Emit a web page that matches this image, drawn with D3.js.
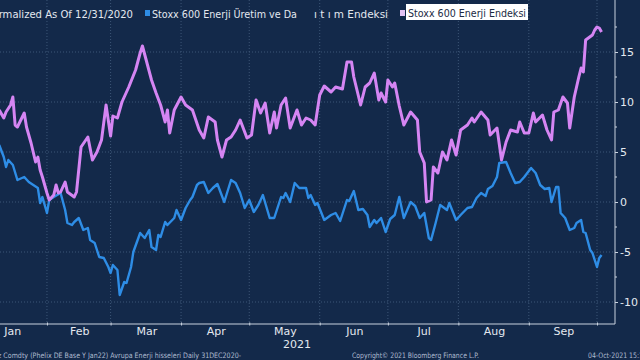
<!DOCTYPE html>
<html>
<head>
<meta charset="utf-8">
<script src="https://cdn.jsdelivr.net/npm/d3@7"></script>
<style>
  html, body { margin: 0; padding: 0; background: #13294a; }
  svg { display: block; }
</style>
</head>
<body>
<svg id="chart" width="640" height="360"></svg>
<script>
// ---- DATA (day offsets from 1 Jan 2021, values normalized to 0 at 12/31/2020, %) ----
const energyDays = [10,12,13,15,16,17,18,21,22,24,26,27,28,29,31,32,34,35,36,37,39,40,43,44,46,49,51,53,55,57,59,60,62,64,67,70,72,73,75,77,79,81,83,84,85,87,90,92,95,98,100,102,105,106,108,110,112,114,116,119,121,123,125,127,129,131,132,134,136,138,141,143,145,147,149,151,153,156,158,161,163,165,166,169,171,173,175,177,178,180,181,183,184,186,188,191,194,195,197,198,200,201,203,205,207,209,211,213,216,218,219,222,225,226,229,231,233,235,238,239,241,243,245,246,249,251,253,254,256,258,260,261,263,265,266,267,268,271,272,273,274,275];
const energyVals = [9.2,8.4,9.0,9.7,10.5,7.7,7.5,8.9,7.5,5.9,4.0,4.5,3.2,2.5,0.9,0.2,0.7,1.7,0.9,1.0,2.0,1.0,0.5,1.0,5.5,6.5,4.2,5.0,6.2,9.7,6.6,8.6,8.4,10.0,11.5,13.2,14.9,15.6,13.9,12.2,10.9,9.7,8.0,9.2,6.9,9.2,10.5,9.7,9.2,7.2,6.4,8.5,8.0,6.2,4.5,6.2,6.5,7.2,8.2,6.4,6.7,10.2,8.9,9.9,6.9,9.0,7.4,9.7,10.4,7.4,9.2,7.7,8.4,8.2,7.7,10.7,11.6,11.0,11.5,11.3,14.0,14.0,12.5,9.7,11.5,11.9,12.9,10.2,10.9,10.0,12.2,11.5,11.9,9.6,7.7,9.0,8.2,5.0,3.9,0.0,0.2,3.5,2.9,5.0,4.2,6.2,4.7,7.2,7.7,8.4,8.0,9.0,8.2,6.7,7.4,4.2,6.0,7.2,7.0,8.0,6.9,6.9,8.9,8.0,8.7,7.2,6.2,9.0,9.2,10.5,9.9,7.4,10.5,12.5,13.4,13.0,16.2,16.7,17.2,17.5,17.4,17.0];

const utilDays = [10,12,13,14,16,18,21,23,25,27,28,29,31,32,34,37,39,40,42,43,45,47,49,50,52,54,56,58,59,60,62,63,65,66,68,69,72,74,76,77,79,80,81,83,84,87,88,90,92,94,95,97,98,100,102,104,106,109,112,114,116,118,120,122,124,126,129,131,134,135,136,138,140,142,145,146,147,149,150,153,156,158,160,163,164,166,168,170,172,173,175,176,178,180,182,184,186,188,191,193,195,197,199,200,202,204,207,208,211,213,216,218,220,222,224,225,227,229,230,233,235,237,239,241,244,246,248,250,252,253,255,256,257,259,261,263,264,266,267,268,270,271,273,274,275];
const utilVals = [5.7,4.5,3.5,4.2,3.7,2.2,2.5,2.0,1.7,1.4,-0.1,0.5,-1.1,0.2,0.5,0.9,-0.8,-2.1,-2.3,-2.0,-1.6,-2.8,-2.6,-3.8,-4.1,-5.5,-5.6,-6.5,-7.1,-6.3,-6.8,-9.3,-8.0,-8.1,-6.5,-5.0,-3.1,-3.6,-2.8,-4.5,-4.8,-3.3,-3.5,-2.0,-2.3,-1.6,-0.8,-1.8,-0.6,0.2,0.5,1.7,1.9,2.0,0.9,1.4,1.8,0.0,2.2,1.9,0.9,-0.6,0.2,-1.0,-0.3,0.7,-1.6,-1.6,0.5,0.4,0.9,0.0,1.9,1.4,1.4,0.4,0.7,-0.3,-0.1,-1.8,-1.3,-1.1,-1.9,0.2,0.1,1.1,-0.8,-0.7,-1.3,-2.5,-1.8,-2.1,-1.6,-3.0,-1.7,-1.3,0.5,-1.6,0.0,-0.4,-1.6,-1.1,-3.6,-3.8,-2.1,-0.3,-0.8,-0.1,-1.8,-1.3,-0.6,-0.5,0.4,0.9,0.6,1.3,1.6,2.5,3.9,4.0,2.9,1.9,2.0,2.5,3.4,2.9,1.7,1.3,1.4,0.0,1.5,1.5,-1.1,-1.6,-2.8,-2.6,-2.1,-1.8,-3.0,-3.1,-4.8,-5.1,-6.5,-5.6,-5.3];

const monthLabels = ["Jan","Feb","Mar","Apr","May","Jun","Jul","Aug","Sep"];
const yTicks = [-10,-5,0,5,10,15];
const legendTitle = "Normalized As Of 12/31/2020";
const legendUtil = "Stoxx 600 Enerji Üretim ve Da";
const legendUtilTail = "ı t ı m Endeksi";
const legendEnergy = "Stoxx 600 Enerji Endeksi";
const footerLeft = "z Comdty (Phelix DE Base Y  Jan22) Avrupa Enerji hisseleri  Daily 31DEC2020-";
const footerMid = "Copyright\u00A9 2021 Bloomberg Finance L.P.";
const footerRight = "04-Oct-2021 15:1";

// ---- LAYOUT ----
const svg = d3.select("#chart");
const W = 640, H = 360;
const plotRight = 615, plotBottom = 324, plotTop = 0;
const bg = "#13294a";
const gridCol = "#3d5677";
const axisCol = "#c9d2de";
const textCol = "#e3e8ef";

const toDate = d => new Date(2021, 0, 1 + d);

const x = d3.scaleTime()
  .domain([new Date(2021, 0, 1), new Date(2021, 9, 1)])
  .range([-23.5, 597]);
const y = d3.scaleLinear().domain([-10, 15]).range([302, 52]);

svg.append("rect").attr("width", W).attr("height", H).attr("fill", bg);

svg.append("defs").append("clipPath").attr("id", "plotclip")
  .append("rect").attr("x", 0).attr("y", plotTop).attr("width", plotRight).attr("height", plotBottom - plotTop);

const monthStarts = d3.timeMonth.range(new Date(2021, 1, 1), new Date(2021, 9, 2));

// grid
const grid = svg.append("g");
grid.selectAll("line.h").data(yTicks).join("line")
  .attr("x1", 0).attr("x2", plotRight)
  .attr("y1", d => y(d)).attr("y2", d => y(d))
  .attr("stroke", gridCol).attr("stroke-width", 1).attr("stroke-dasharray", "1,2");
grid.selectAll("line.v").data(monthStarts).join("line")
  .attr("x1", d => x(d)).attr("x2", d => x(d))
  .attr("y1", plotTop).attr("y2", plotBottom)
  .attr("stroke", gridCol).attr("stroke-width", 1).attr("stroke-dasharray", "1,2");

// lines
const lineGen = d3.line().x(d => x(d[0])).y(d => y(d[1]));
const utilData = utilDays.map((d, i) => [toDate(d), utilVals[i]]);
const energyData = energyDays.map((d, i) => [toDate(d), energyVals[i]]);

const lines = svg.append("g").attr("clip-path", "url(#plotclip)");
lines.append("path").datum(utilData).attr("d", lineGen)
  .attr("fill", "none").attr("stroke", "#2e8de6").attr("stroke-width", 2.4)
  .attr("stroke-linejoin", "round");
lines.append("path").datum(energyData).attr("d", lineGen)
  .attr("fill", "none").attr("stroke", "#d585f3").attr("stroke-width", 3)
  .attr("stroke-linejoin", "round");

// right axis
const yAxis = d3.axisRight(y).tickValues(yTicks).tickSize(3).tickPadding(2)
  .tickFormat(d => d < 0 ? "-" + Math.abs(d) : d);
const yg = svg.append("g").attr("transform", `translate(${plotRight},0)`).call(yAxis);
yg.select(".domain").remove();
yg.selectAll("line").attr("stroke", axisCol);
yg.selectAll("text").attr("fill", textCol).attr("font-family", "DejaVu Sans, sans-serif").attr("font-size", 11);
const minor = d3.range(-10, 17.6, 2.5).filter(v => !yTicks.includes(v));
svg.append("g").selectAll("line").data(minor).join("line")
  .attr("x1", plotRight).attr("x2", plotRight + 2)
  .attr("y1", d => y(d)).attr("y2", d => y(d)).attr("stroke", axisCol);

// borders
svg.append("line").attr("x1", plotRight).attr("x2", plotRight).attr("y1", plotTop).attr("y2", plotBottom)
  .attr("stroke", axisCol).attr("stroke-width", 1);
svg.append("line").attr("x1", 0).attr("x2", plotRight).attr("y1", plotBottom).attr("y2", plotBottom)
  .attr("stroke", axisCol).attr("stroke-width", 1);

// bottom axis ticks at month starts
const xAxis = d3.axisBottom(x).tickValues(monthStarts).tickSize(3).tickFormat("");
const xg = svg.append("g").attr("transform", `translate(0,${plotBottom - 1.5})`).call(xAxis);
xg.select(".domain").remove();
xg.selectAll("line").attr("stroke", axisCol);

// month labels centered in each month
const monthMids = monthLabels.map((m, i) => {
  const a = new Date(2021, i, 1), b = new Date(2021, i + 1, 1);
  return { label: m, x: (x(a) + x(b)) / 2 };
});
svg.append("g").selectAll("text").data(monthMids).join("text")
  .attr("x", d => d.x + 1).attr("y", 335)
  .attr("text-anchor", "middle")
  .attr("fill", textCol).attr("font-family", "DejaVu Sans, sans-serif").attr("font-size", 11)
  .text(d => d.label);
svg.append("text").attr("x", 311).attr("y", 348).attr("text-anchor", "end")
  .attr("fill", textCol).attr("font-family", "DejaVu Sans, sans-serif").attr("font-size", 11)
  .text("2021");

// legend
const lg = svg.append("g").attr("font-family", "DejaVu Sans, sans-serif").attr("font-size", 11).attr("fill", textCol);
lg.append("text").attr("x", -15).attr("y", 18).attr("textLength", 148).attr("lengthAdjust", "spacingAndGlyphs").text(legendTitle);
lg.append("rect").attr("x", 145).attr("y", 10).attr("width", 5).attr("height", 6).attr("fill", "#2e8de6");
lg.append("text").attr("x", 152).attr("y", 18).attr("textLength", 145).attr("lengthAdjust", "spacingAndGlyphs").text(legendUtil);
lg.append("text").attr("x", 314).attr("y", 18).attr("textLength", 74).attr("lengthAdjust", "spacingAndGlyphs").text(legendUtilTail);
lg.append("rect").attr("x", 400).attr("y", 10).attr("width", 5).attr("height", 6).attr("fill", "#e3c2f3");
lg.append("rect").attr("x", 406).attr("y", 4).attr("width", 122).attr("height", 16).attr("fill", "#ffffff");
lg.append("text").attr("x", 408).attr("y", 17).attr("fill", "#1a2a44").attr("textLength", 118).attr("lengthAdjust", "spacingAndGlyphs").text(legendEnergy);

// footer
const fg = svg.append("g").attr("font-family", "DejaVu Sans, sans-serif").attr("font-size", 7.5).attr("fill", "#aebbd0");
fg.append("text").attr("x", -2).attr("y", 358).attr("textLength", 243).attr("lengthAdjust", "spacingAndGlyphs").text(footerLeft);
fg.append("text").attr("x", 352).attr("y", 358).attr("textLength", 127).attr("lengthAdjust", "spacingAndGlyphs").text(footerMid);
fg.append("text").attr("x", 588).attr("y", 358).attr("textLength", 55).attr("lengthAdjust", "spacingAndGlyphs").text(footerRight);
</script>
</body>
</html>
